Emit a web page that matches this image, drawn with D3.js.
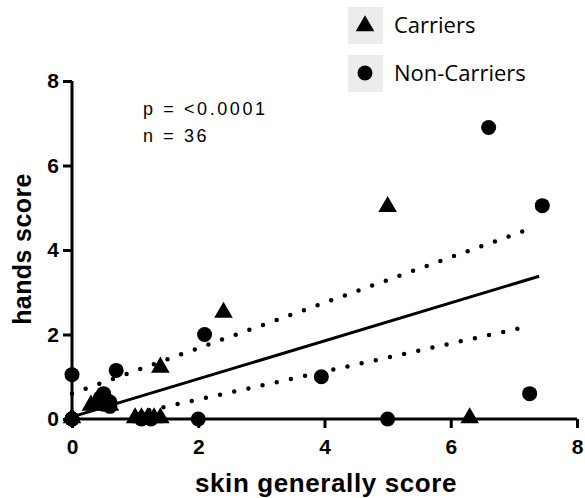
<!DOCTYPE html>
<html lang="en">
<head>
  <meta charset="UTF-8" />
  <title>hands score vs skin generally score</title>
  <script src="https://d3js.org/d3.v7.min.js"></script>
  <style>
    body { margin: 0; background: #fff; }
    svg { display: block; font-family: "Liberation Sans", Arial, sans-serif; }
    .axis path, .axis line { stroke: #000; stroke-width: 3px; }
  </style>
</head>
<body>
  <div id="chart"></div>
  <script>
    // carriers (triangles)
    const carrierX = [5.0, 2.4, 1.4, 6.3, 1.0, 1.1, 1.2, 1.3, 1.4, 0.3, 0.4, 0.5, 0.0, 0.6];
    const carrierY = [5.0, 2.5, 1.2, 0.0, 0.0, 0.0, 0.0, 0.0, 0.0, 0.3, 0.4, 0.5, 0.0, 0.3];

    // non-carriers (circles)
    const nonX = [6.6, 7.45, 2.1, 0.7, 0.0, 3.95, 7.25, 5.0, 2.0, 0.0, 0.5, 0.55, 0.6, 1.1, 1.25, 0.0, 0.0, 0.45, 0.5, 0.0, 0.6, 0.0];
    const nonY = [6.9, 5.05, 2.0, 1.15, 1.05, 1.0, 0.6, 0.0, 0.0, 0.0, 0.6, 0.45, 0.3, 0.0, 0.0, 0.0, 0.0, 0.5, 0.35, 0.0, 0.4, 0.0];

    // regression line and dotted band end points
    const fitX = [0.0, 7.4];
    const fitY = [0.05, 3.38];
    const upperX = [0.0, 7.25];
    const upperY = [0.6, 4.5];
    const lowerX = [1.0, 7.25];
    const lowerY = [0.13, 2.2];

    const xTicks = [0, 2, 4, 6, 8];
    const yTicks = [0, 2, 4, 6, 8];

    const width = 585, height = 498;
    const svg = d3.select("#chart").append("svg")
      .attr("width", width).attr("height", height);

    const x = d3.scaleLinear().domain([0, 8]).range([72, 577]);
    const y = d3.scaleLinear().domain([0, 8]).range([419, 81]);

    // axes
    svg.append("g").attr("class", "axis")
      .attr("transform", "translate(0,419)")
      .call(d3.axisBottom(x).tickValues(xTicks).tickSize(9).tickPadding(11).tickFormat(d3.format("d")))
      .call(g => g.select(".domain").attr("d", `M${x(0)},0H${x(8)}`));

    svg.append("g").attr("class", "axis")
      .attr("transform", "translate(72,0)")
      .call(d3.axisLeft(y).tickValues(yTicks).tickSize(9).tickPadding(4).tickFormat(d3.format("d")))
      .call(g => g.select(".domain").attr("d", `M0,${y(8)}V${y(0)}`));

    svg.selectAll(".axis text")
      .style("font-family", "'Liberation Sans', Arial, sans-serif")
      .style("font-size", "21px")
      .style("font-weight", "bold")
      .style("fill", "#000");

    // fit line + bands
    const line = d3.line().x(d => x(d[0])).y(d => y(d[1]));
    svg.append("path")
      .attr("d", line(d3.zip(fitX, fitY)))
      .attr("fill", "none").attr("stroke", "#000").attr("stroke-width", 3);

    [[upperX, upperY], [lowerX, lowerY]].forEach(([bx, by]) => {
      svg.append("path")
        .attr("d", line(d3.zip(bx, by)))
        .attr("fill", "none").attr("stroke", "#000")
        .attr("stroke-width", 4.5)
        .attr("stroke-linecap", "round")
        .attr("stroke-dasharray", "0 14.5");
    });

    // points
    const tri = d3.symbol().type(d3.symbolTriangle).size(150);
    svg.append("g").selectAll("circle")
      .data(d3.zip(nonX, nonY))
      .enter().append("circle")
      .attr("cx", d => x(d[0])).attr("cy", d => y(d[1]))
      .attr("r", 7.5).attr("fill", "#000");

    svg.append("g").selectAll("path")
      .data(d3.zip(carrierX, carrierY))
      .enter().append("path")
      .attr("d", tri)
      .attr("transform", d => `translate(${x(d[0])},${y(d[1]) - 1})`)
      .attr("fill", "#000");

    // axis titles
    svg.append("text")
      .attr("x", 326).attr("y", 492)
      .attr("text-anchor", "middle")
      .attr("font-size", 26).attr("font-weight", "bold")
      .attr("letter-spacing", 0.6)
      .text("skin generally score");

    svg.append("text")
      .attr("transform", "translate(31,249) rotate(-90)")
      .attr("text-anchor", "middle")
      .attr("font-size", 25).attr("font-weight", "bold")
      .attr("letter-spacing", 0.4)
      .text("hands score");

    // stats annotation
    svg.append("text")
      .attr("x", 143).attr("y", 115)
      .attr("font-size", 18).attr("letter-spacing", 2.6)
      .text("p = <0.0001");
    svg.append("text")
      .attr("x", 143).attr("y", 142)
      .attr("font-size", 18).attr("letter-spacing", 2.6)
      .text("n = 36");

    // legend
    const legend = svg.append("g");
    const legendItems = ["Carriers", "Non-Carriers"];
    legendItems.forEach((name, i) => {
      const cy = 25 + i * 48;
      legend.append("rect")
        .attr("x", 348).attr("y", cy - 18)
        .attr("width", 35).attr("height", 37)
        .attr("fill", "#ececec");
      if (i === 0) {
        legend.append("path")
          .attr("d", tri)
          .attr("transform", `translate(365,${cy + 1})`)
          .attr("fill", "#000");
      } else {
        legend.append("circle")
          .attr("cx", 365).attr("cy", cy).attr("r", 7.5).attr("fill", "#000");
      }
      legend.append("text")
        .attr("x", 394).attr("y", cy + 8)
        .attr("font-family", "'Open Sans', sans-serif")
        .attr("font-size", 22)
        .text(name);
    });
  </script>
</body>
</html>
